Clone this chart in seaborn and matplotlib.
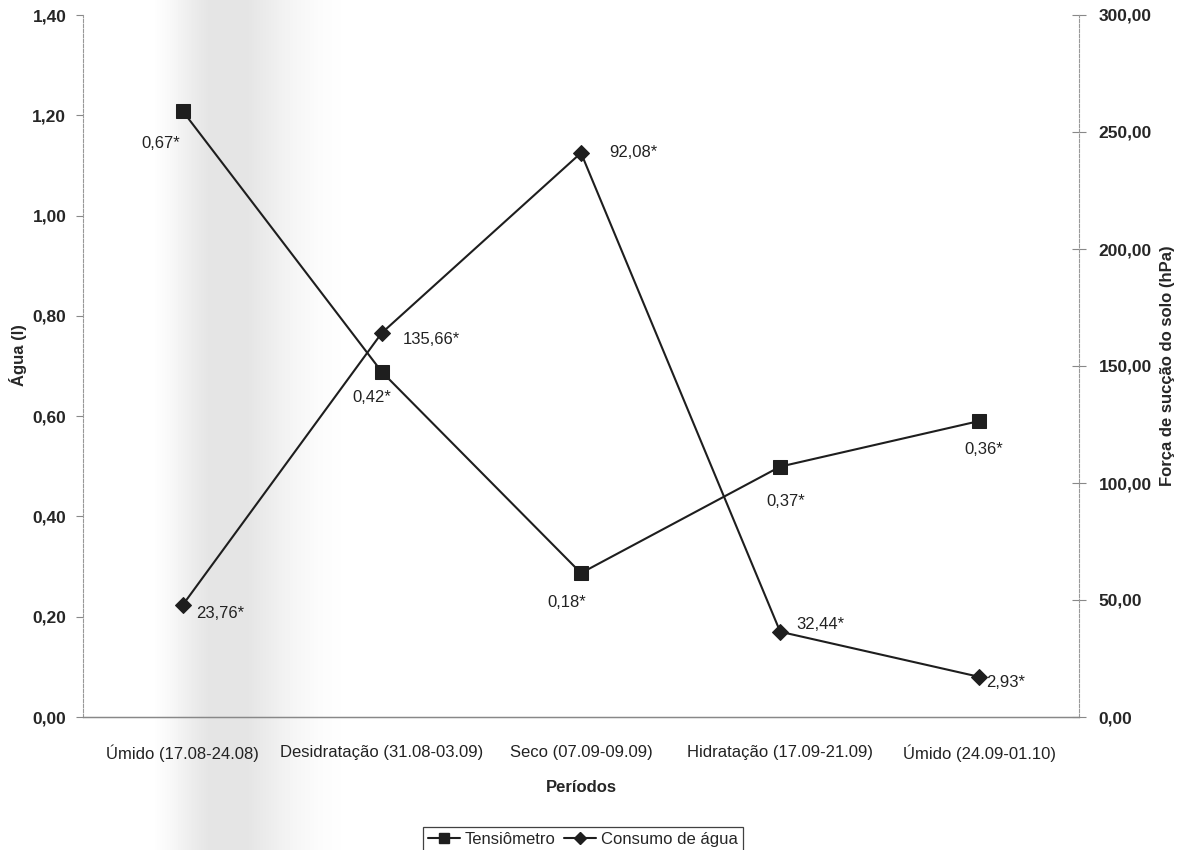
import numpy as np
import matplotlib
matplotlib.use("Agg")
import matplotlib.pyplot as plt
import matplotlib.ticker as mticker
from matplotlib.lines import Line2D
import seaborn as sns
import pandas as pd

# ---- data -------------------------------------------------------------
periodos = [
    "Úmido (17.08-24.08)",
    "Desidratação (31.08-03.09)",
    "Seco (07.09-09.09)",
    "Hidratação (17.09-21.09)",
    "Úmido (24.09-01.10)",
]
tensiometro_hpa = [259.0, 147.5, 61.5, 107.0, 126.5]
consumo_agua_l = [0.223, 0.766, 1.125, 0.170, 0.080]
rotulos_tensiometro = ["0,67*", "0,42*", "0,18*", "0,37*", "0,36*"]
rotulos_consumo = ["23,76*", "135,66*", "92,08*", "32,44*", "2,93*"]

# ---- style ------------------------------------------------------------
sns.set_style("white")
plt.rcParams["font.family"] = ["Liberation Sans", "DejaVu Sans"]

W, H, DPI = 1181, 850, 100
fig = plt.figure(figsize=(W / DPI, H / DPI), dpi=DPI)
fig.patch.set_facecolor("white")

# soft grey vertical band behind the plot
bg = fig.add_axes([0, 0, 1, 1], zorder=-10)
xs = np.arange(W)
shade = np.interp(xs, [152, 172, 192, 208, 248, 268, 292, 322, 350],
                  [255, 247, 236, 229, 229, 236, 245, 252, 255])
img = np.tile(shade / 255.0, (H, 1))
bg.imshow(img, cmap="gray", vmin=0, vmax=1, aspect="auto", extent=[0, W, H, 0])
bg.set_axis_off()

ax = fig.add_axes([83 / W, (H - 717) / H, (1079 - 83) / W, (717 - 15) / H])
ax.patch.set_alpha(0)
ax2 = ax.twinx()
ax2.patch.set_alpha(0)

df = pd.DataFrame({
    "pos": np.arange(len(periodos)),
    "periodo": periodos,
    "tens": tensiometro_hpa,
    "cons": consumo_agua_l,
})

line_kw = dict(color="#1e1e1e", linewidth=1.5, markeredgecolor="#1e1e1e")
sns.lineplot(data=df, x="pos", y="cons", ax=ax, marker="D", markersize=8.5, **line_kw)
sns.lineplot(data=df, x="pos", y="tens", ax=ax2, marker="s", markersize=9.5, **line_kw)

ax.set_xlim(-0.5, len(periodos) - 0.5)
ax.set_ylim(0, 1.4)
ax2.set_ylim(0, 300)
ax.set_yticks(np.arange(0, 1.41, 0.2))
ax2.set_yticks(np.arange(0, 301, 50))

fmt = mticker.FuncFormatter(lambda v, p: f"{v:.2f}".replace(".", ","))
ax.yaxis.set_major_formatter(fmt)
ax2.yaxis.set_major_formatter(fmt)

ax.set_xticks(df["pos"])
ax.set_xticklabels(periodos, fontsize=12)
ax.set_xticks(np.arange(0.5, len(periodos) - 0.5, 1.0), minor=True)
ax.tick_params(axis="x", which="major", length=0, pad=20, colors="#222")
ax.tick_params(axis="x", which="minor", length=5, width=0.8, color="#888", direction="out")
ax.tick_params(axis="y", length=5, width=0.8, color="#888", direction="out", pad=7,
               labelsize=12.5)
ax2.tick_params(axis="y", length=10, width=0.8, color="#888", direction="inout", pad=9,
                labelsize=12.5)
for lbl in ax.get_yticklabels() + ax2.get_yticklabels():
    lbl.set_fontweight("bold")

for a in (ax, ax2):
    a.spines["top"].set_visible(False)
    a.spines["left"].set_color("#999")
    a.spines["left"].set_linewidth(0.8)
    a.spines["left"].set_linestyle((0, (3, 1.5)))
    a.spines["right"].set_color("#999")
    a.spines["right"].set_linewidth(0.8)
    a.spines["right"].set_linestyle((0, (3, 1.5)))
    a.spines["bottom"].set_color("#888")
    a.spines["bottom"].set_linewidth(0.9)
ax2.spines["left"].set_visible(False)
ax.spines["right"].set_visible(False)

ax.set_xlabel("Períodos", fontsize=12, fontweight="bold", labelpad=13)
ax.set_ylabel("Água (l)", fontsize=12, fontweight="bold")
ax.yaxis.set_label_coords(-0.056, 0.515)
ax2.set_ylabel("Força de sucção do solo (hPa)", fontsize=12, fontweight="bold",
               labelpad=6)

# value annotations (offsets in pixels, converted to points)
px = 72.0 / DPI
tens_offsets = [(-2, -33, "right"), (-10, -26, "center"), (-14, -29, "center"),
                (6, -35, "center"), (4, -29, "center")]
cons_offsets = [(14, -8), (21, -7), (28, 0), (16, 7), (7, -6)]
for i, txt in enumerate(rotulos_tensiometro):
    dx, dy, ha = tens_offsets[i]
    ax2.annotate(txt, (df["pos"][i], tensiometro_hpa[i]), xytext=(dx * px, dy * px),
                 textcoords="offset points", ha=ha, va="center", fontsize=12,
                 color="#222")
for i, txt in enumerate(rotulos_consumo):
    dx, dy = cons_offsets[i]
    ax.annotate(txt, (df["pos"][i], consumo_agua_l[i]), xytext=(dx * px, dy * px),
                textcoords="offset points", ha="left", va="center", fontsize=12,
                color="#222")

handles = [
    Line2D([], [], color="#1e1e1e", lw=1.5, marker="s", markersize=7),
    Line2D([], [], color="#1e1e1e", lw=1.5, marker="D", markersize=6),
]
leg = fig.legend(handles, ["Tensiômetro", "Consumo de água"], loc="upper center",
                 bbox_to_anchor=(583 / W, 23 / H), ncol=2, frameon=True,
                 fancybox=False, edgecolor="#111", fontsize=12, handlelength=1.9,
                 handletextpad=0.3, columnspacing=0.5, borderpad=0.3,
                 borderaxespad=0)
leg.get_frame().set_linewidth(0.9)

fig.savefig("out.png", dpi=DPI, facecolor="white")
